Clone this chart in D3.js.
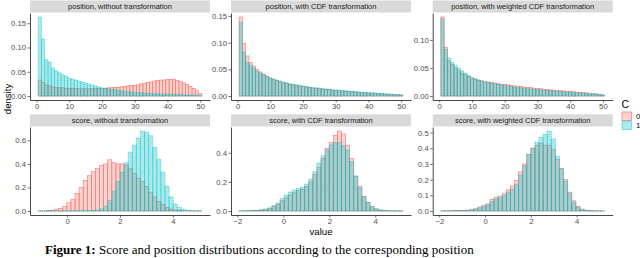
<!DOCTYPE html>
<html><head><meta charset="utf-8">
<script src="https://cdn.jsdelivr.net/npm/d3@7"></script>
<style>body{margin:0;background:#fff;overflow:hidden}svg{display:block;font-family:"Liberation Sans",Arial,Helvetica,sans-serif}</style>
</head><body><svg id="chart" width="640" height="258"></svg>
<script>
// ---------- data ----------
const groups = ["0", "1"];
const panelTitles = [
  "position, without transformation", "position, with CDF transformation", "position, with weighted CDF transformation",
  "score, without transformation", "score, with CDF transformation", "score, with weighted CDF transformation"
];
// bin edge ranges (value axis) for each panel
const positionEdges = [0.5, 50.5];
const scoreEdgesRaw = [-1.1, 5.1];
const scoreEdgesCdf = [-1.92, 5.2];
const scoreEdgesWcdf = [-1.93, 5.22];

// position, without transformation (50 bins, positions 1..50)
const posRaw0 = [0.033,0.028,0.023,0.021,0.019,0.018,0.017,0.017,0.016,0.016,0.016,0.015,0.015,0.015,0.015,0.015,0.015,0.015,0.016,0.016,
  0.016,0.017,0.017,0.018,0.018,0.019,0.020,0.021,0.022,0.022,0.023,0.025,0.026,0.028,0.029,0.031,0.032,0.033,0.033,0.034,
  0.034,0.035,0.032,0.030,0.027,0.024,0.020,0.016,0.011,0.005];
const posRaw1 = [0.163,0.118,0.075,0.070,0.058,0.052,0.048,0.044,0.041,0.037,0.035,0.033,0.031,0.029,0.027,0.025,0.023,0.021,0.019,0.017,
  0.016,0.015,0.014,0.013,0.012,0.011,0.010,0.009,0.0085,0.008,0.0075,0.007,0.0065,0.006,0.0055,0.005,0.0048,0.0045,0.0042,0.004,
  0.0037,0.0034,0.0032,0.003,0.0027,0.0024,0.0021,0.0018,0.0015,0.001];
// position, with CDF transformation
const posCdf0 = [0.148,0.098,0.075,0.063,0.056,0.050,0.045,0.041,0.037,0.034,0.031,0.029,0.027,0.025,0.024,0.022,0.021,0.020,0.019,0.018,
  0.017,0.016,0.015,0.0145,0.014,0.013,0.0125,0.012,0.011,0.0105,0.010,0.0095,0.009,0.0085,0.008,0.0075,0.007,0.0065,0.006,0.0055,
  0.005,0.0048,0.0045,0.004,0.0037,0.0033,0.003,0.0027,0.0024,0.002];
const posCdf1 = [0.138,0.082,0.063,0.058,0.052,0.047,0.043,0.040,0.037,0.034,0.032,0.030,0.028,0.026,0.025,0.023,0.022,0.021,0.020,0.019,
  0.018,0.017,0.016,0.0155,0.015,0.014,0.0135,0.013,0.012,0.0115,0.011,0.0105,0.010,0.0095,0.009,0.0085,0.008,0.0075,0.007,0.0068,
  0.0065,0.006,0.0055,0.005,0.0045,0.004,0.0035,0.003,0.0025,0.002];
// position, with weighted CDF transformation
const posWcdf0 = [0.141,0.087,0.063,0.056,0.050,0.045,0.041,0.038,0.035,0.032,0.030,0.028,0.027,0.026,0.025,0.024,0.023,0.022,0.021,0.021,
  0.020,0.019,0.018,0.0175,0.017,0.016,0.0155,0.015,0.014,0.0135,0.013,0.012,0.0115,0.011,0.0105,0.010,0.0095,0.009,0.0085,0.008,
  0.0075,0.007,0.0065,0.006,0.0055,0.005,0.0045,0.004,0.003,0.002];
const posWcdf1 = [0.138,0.083,0.068,0.060,0.055,0.050,0.045,0.041,0.037,0.033,0.031,0.029,0.027,0.025,0.024,0.023,0.022,0.021,0.020,0.019,
  0.018,0.017,0.016,0.015,0.0145,0.014,0.013,0.0125,0.012,0.0115,0.011,0.0105,0.010,0.0095,0.009,0.0085,0.008,0.0075,0.007,0.0068,
  0.0065,0.006,0.0055,0.005,0.0045,0.004,0.0035,0.003,0.0025,0.002];

// score, without transformation (40 bins)
const scoreRaw0 = [0.001,0.001,0.003,0.006,0.012,0.020,0.040,0.070,0.100,0.150,0.200,0.260,0.300,0.335,0.360,0.385,0.400,0.435,0.410,0.400,
  0.400,0.390,0.360,0.320,0.280,0.250,0.210,0.160,0.120,0.080,0.055,0.030,0.017,0.008,0.004,0.002,0.001,0.001,0.0005,0.0005];
const scoreRaw1 = [0.001,0.001,0.001,0.001,0.001,0.001,0.001,0.001,0.001,0.002,0.002,0.003,0.003,0.006,0.010,0.020,0.040,0.090,0.170,0.250,
  0.330,0.410,0.500,0.560,0.620,0.680,0.670,0.640,0.540,0.440,0.330,0.210,0.120,0.060,0.030,0.015,0.006,0.003,0.001,0.001];
// score, with CDF transformation
const scoreCdf0 = [0.001,0.001,0.002,0.003,0.004,0.006,0.010,0.016,0.030,0.045,0.070,0.090,0.110,0.125,0.140,0.150,0.170,0.200,0.250,0.300,
  0.360,0.430,0.470,0.520,0.550,0.530,0.450,0.360,0.240,0.170,0.100,0.060,0.030,0.015,0.007,0.004,0.002,0.001,0.001,0.0005];
const scoreCdf1 = [0.001,0.002,0.003,0.004,0.006,0.009,0.014,0.022,0.038,0.055,0.085,0.110,0.130,0.145,0.155,0.165,0.185,0.220,0.270,0.330,
  0.380,0.420,0.455,0.470,0.470,0.450,0.420,0.340,0.240,0.160,0.100,0.060,0.030,0.014,0.007,0.004,0.002,0.001,0.001,0.0005];
// score, with weighted CDF transformation
const scoreWcdf0 = [0.001,0.001,0.001,0.002,0.002,0.003,0.005,0.008,0.014,0.025,0.035,0.045,0.075,0.088,0.095,0.110,0.135,0.160,0.195,0.250,
  0.300,0.360,0.400,0.420,0.430,0.420,0.420,0.390,0.330,0.270,0.200,0.120,0.065,0.030,0.012,0.005,0.002,0.001,0.001,0.0005];
const scoreWcdf1 = [0.001,0.001,0.001,0.002,0.002,0.003,0.004,0.007,0.012,0.020,0.030,0.040,0.060,0.078,0.085,0.100,0.120,0.140,0.170,0.230,
  0.290,0.360,0.400,0.440,0.470,0.490,0.510,0.460,0.350,0.270,0.190,0.110,0.055,0.025,0.010,0.004,0.002,0.001,0.001,0.0005];

const posXTicks = [0, 10, 20, 30, 40, 50];
const scoreXTicksRaw = [0, 2, 4];
const scoreXTicks = [-2, 0, 2, 4];
const yTicks = [
  [0, 0.05, 0.10, 0.15], [0, 0.05, 0.10, 0.15], [0, 0.05, 0.10],
  [0, 0.2, 0.4, 0.6], [0, 0.2, 0.4], [0, 0.1, 0.2, 0.3, 0.4, 0.5]
];
const caption = "Score and position distributions according to the corresponding position";

// ---------- layout ----------
const colors = {"0": "#F8766D", "1": "#00BFC4"};
const colX = [30, 231, 432.7];
const panelW = 180;
const rows = [{stripTop: 0.5, top: 13, bottom: 100}, {stripTop: 114.3, top: 127, bottom: 215}];

const panels = [
  {edges: positionEdges, s: [posRaw0, posRaw1], xt: posXTicks, yf: ".2f"},
  {edges: positionEdges, s: [posCdf0, posCdf1], xt: posXTicks, yf: ".2f"},
  {edges: positionEdges, s: [posWcdf0, posWcdf1], xt: posXTicks, yf: ".2f"},
  {edges: scoreEdgesRaw, s: [scoreRaw0, scoreRaw1], xt: scoreXTicksRaw, yf: ".1f"},
  {edges: scoreEdgesCdf, s: [scoreCdf0, scoreCdf1], xt: scoreXTicks, yf: ".1f"},
  {edges: scoreEdgesWcdf, s: [scoreWcdf0, scoreWcdf1], xt: scoreXTicks, yf: ".1f"}
];

const svg = d3.select("#chart");
const tickCol = "#4D4D4D", tickFs = "7.7px";

panels.forEach((p, k) => {
  const r = rows[Math.floor(k / 3)], x0 = colX[k % 3];
  const span = p.edges[1] - p.edges[0];
  const x = d3.scaleLinear().domain([p.edges[0] - 0.05 * span, p.edges[1] + 0.05 * span]).range([x0, x0 + panelW]);
  const ymax = d3.max(p.s.flat());
  const y = d3.scaleLinear().domain([-0.05 * ymax, 1.05 * ymax]).range([r.bottom, r.top]);
  const n = p.s[0].length, bw = span / n;
  const g = svg.append("g");

  // strip
  g.append("rect").attr("x", x0).attr("y", r.stripTop).attr("width", panelW).attr("height", r.top - r.stripTop - 0.5).attr("fill", "#D9D9D9");
  g.append("text").attr("x", x0 + panelW / 2).attr("y", (r.stripTop + r.top) / 2 + 2.6).attr("text-anchor", "middle")
    .attr("font-size", "7.5px").attr("fill", "#1A1A1A").text(panelTitles[k]);

  // bars
  p.s.forEach((vals, gi) => {
    g.append("g").selectAll("rect").data(vals).join("rect")
      .attr("x", (d, i) => x(p.edges[0] + i * bw))
      .attr("width", (d, i) => x(p.edges[0] + (i + 1) * bw) - x(p.edges[0] + i * bw))
      .attr("y", d => y(d)).attr("height", d => y(0) - y(d))
      .attr("fill", colors[groups[gi]]).attr("fill-opacity", 0.33)
      .attr("stroke", colors[groups[gi]]).attr("stroke-width", 0.6)
      .attr("stroke-dasharray", gi === 1 ? "1,0.8" : null);
  });

  // axes
  const ax = g.append("g").attr("transform", `translate(0,${r.bottom})`)
    .call(d3.axisBottom(x).tickValues(p.xt).tickFormat(d3.format("d")).tickSize(2.5).tickSizeOuter(0).tickPadding(1.5));
  const ay = g.append("g").attr("transform", `translate(${x0},0)`)
    .call(d3.axisLeft(y).tickValues(yTicks[k]).tickFormat(d3.format(p.yf)).tickSize(2.5).tickSizeOuter(0).tickPadding(1.5));
  [ax, ay].forEach(a => {
    a.select(".domain").attr("stroke", "#333").attr("stroke-width", 0.9);
    a.selectAll(".tick line").attr("stroke", "#333").attr("stroke-width", 0.7);
    a.selectAll(".tick text").attr("fill", tickCol).attr("font-size", tickFs).attr("font-family", "Liberation Sans, Arial, sans-serif");
  });
});

// axis titles
svg.append("text").attr("x", 321).attr("y", 235).attr("text-anchor", "middle").attr("font-size", "9.6px").attr("fill", "#000").text("value");
svg.append("text").attr("transform", "translate(10.5,99) rotate(-90)").attr("text-anchor", "middle").attr("font-size", "9.6px").attr("fill", "#000").text("density");

// legend
const lg = svg.append("g");
lg.append("text").attr("x", 621.5).attr("y", 107.5).attr("font-size", "10.5px").attr("fill", "#000").text("C");
groups.forEach((gname, i) => {
  lg.append("rect").attr("x", 622).attr("y", 112 + i * 9).attr("width", 9.5).attr("height", 8.5)
    .attr("fill", colors[gname]).attr("fill-opacity", 0.33).attr("stroke", colors[gname]).attr("stroke-width", 0.7)
    .attr("stroke-dasharray", i === 1 ? "1,0.8" : null);
  lg.append("text").attr("x", 636).attr("y", 119 + i * 9).attr("font-size", "7.7px").attr("fill", "#000").text(gname);
});

// caption (kept inside the window)
const cap = svg.append("text").attr("x", 45).attr("y", 254).attr("font-family", "Liberation Serif, Times New Roman, serif").attr("font-size", "13px").attr("fill", "#000");
cap.append("tspan").attr("font-weight", "bold").text("Figure 1: ");
cap.append("tspan").text(caption);
</script></body></html>
